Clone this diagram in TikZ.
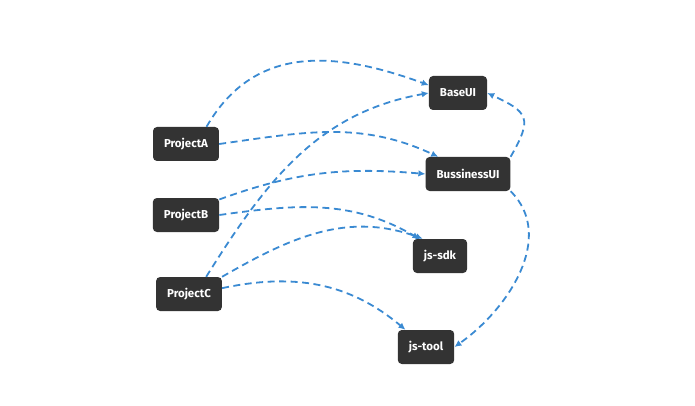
\documentclass[tikz,border=0pt]{standalone}
\usepackage{fontspec}
\setsansfont{Fira Sans}
\usetikzlibrary{arrows.meta}
\definecolor{boxgray}{HTML}{333333}
\definecolor{depblue}{HTML}{3A8AD2}
\begin{document}
\begin{tikzpicture}[x=1pt, y=-1pt,
    box/.style={fill=boxgray, rounded corners=4pt, text=white, font=\sffamily\bfseries\fontsize{11.5}{13}\selectfont,
        minimum height=34pt, inner xsep=11pt},
    dep/.style={depblue, line width=1.8pt, dash pattern=on 7pt off 4.5pt, -{Latex[length=7pt,width=6.5pt]}}]
\useasboundingbox (0,0) rectangle (695,406);
\node[box] (base) at (458,93) {BaseUI};
\node[box] (pa) at (186,144) {ProjectA};
\node[box] (bus) at (468,174) {BussinessUI};
\node[box] (pb) at (186,215) {ProjectB};
\node[box] (sdk) at (440,256) {js-sdk};
\node[box] (pc) at (189,294) {ProjectC};
\node[box] (tool) at (426,347) {js-tool};
% projects
\draw[dep] (pa.40) to[out=60, in=160, looseness=1.1] (base.165);
\draw[dep] (pa.east) to[out=8, in=155] (bus.150);
\draw[dep] (pb.25) to[out=20, in=175] (bus.west);
\draw[dep] (pb.east) to[out=8, in=150] (sdk.140);
\draw[dep] (pc.45) to[out=58, in=190] (base.west);
\draw[dep] (pc.north east) to[out=30, in=160] (sdk.135);
\draw[dep] (pc.10) to[out=12, in=140] (tool.140);
% libs
\draw[dep] (bus.north east) to[out=60, in=-25, looseness=1.7] (base.east);
\draw[dep] (bus.south east) to[out=-45, in=35] (tool.east);
\end{tikzpicture}
\end{document}
